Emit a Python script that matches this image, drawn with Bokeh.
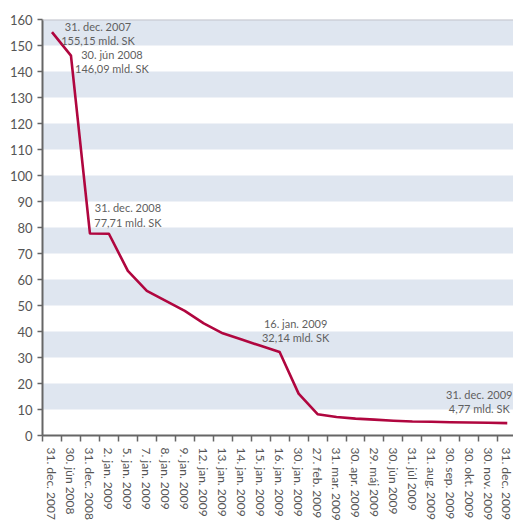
import numpy as np
from bokeh.plotting import figure
from bokeh.models import FixedTicker, Span, ColumnDataSource
from bokeh.embed import file_html
from bokeh.resources import INLINE
from bokeh.core.properties import value

dates = ["31. dec. 2007", "30. jún 2008", "31. dec. 2008", "2. jan. 2009", "5. jan. 2009",
         "7. jan. 2009", "8. jan. 2009", "9. jan. 2009", "12. jan. 2009", "13. jan. 2009",
         "14. jan. 2009", "15. jan. 2009", "16. jan. 2009", "30. jan. 2009", "27. feb. 2009",
         "31. mar. 2009", "30. apr. 2009", "29. máj 2009", "30. jún 2009", "31. júl 2009",
         "31. aug. 2009", "30. sep. 2009", "30. okt. 2009", "30. nov. 2009", "31. dec. 2009"]
amounts = [155.15, 146.09, 77.71, 77.6, 63.3, 55.6, 51.8, 47.9, 43.1, 39.3,
           36.9, 34.5, 32.14, 16.1, 8.2, 7.1, 6.5, 6.1, 5.7, 5.4,
           5.3, 5.1, 5.0, 4.9, 4.77]
annotated = [0, 1, 2, 12, 24]
y_ticks = list(range(0, 161, 10))

FONT = "Lato"
TXT = "#555555"

n = len(dates)
xs = np.arange(n) + 0.5

p = figure(width=513, height=523, output_backend="svg", toolbar_location=None,
           x_range=(0, 471 / 18.97), y_range=(0, 160),
           min_border_left=42, min_border_top=19, min_border_bottom=88, min_border_right=0)
p.outline_line_color = None
p.background_fill_color = "white"

# grid bands
p.xgrid.visible = False
p.ygrid.grid_line_color = None
p.ygrid.band_fill_color = "#DFE6F0"
p.ygrid.band_fill_alpha = 1.0
p.yaxis.ticker = FixedTicker(ticks=y_ticks)

top = Span(location=160, dimension="width", line_color="#C4C4CC", line_width=2)
p.add_layout(top)

p.line(xs, amounts, line_color="#B0063F", line_width=2.6, line_join="round")

# annotations
ann_dx = [46, 41, 38, 16, -28]
ann_dy = [-12, -8, -32, -35, -35]
src = ColumnDataSource(dict(
    x=[xs[i] for i in annotated],
    y=[amounts[i] for i in annotated],
    t=[dates[i] + "\n" + f"{amounts[i]:.2f}".replace(".", ",") + " mld. SK" for i in annotated],
    dx=ann_dx, dy=ann_dy))
p.text(x="x", y="y", text="t", x_offset="dx", y_offset="dy", source=src,
       text_align="center", text_baseline="top", text_font=value(FONT),
       text_font_size="11px", text_color="#5f5f5f", text_line_height=1.1)

# axes
for ax in (p.xaxis[0], p.yaxis[0]):
    ax.axis_line_color = "#666666"
    ax.axis_line_width = 2
    ax.major_label_text_font = FONT
    ax.major_label_text_color = TXT

p.yaxis.major_label_text_font_size = "13px"
p.xaxis.major_label_text_font_size = "12px"

p.yaxis.major_tick_in = 0
p.yaxis.major_tick_out = 5
p.yaxis.major_tick_line_color = "#666666"
p.yaxis.major_tick_line_width = 1.5
p.yaxis.minor_tick_line_color = None
p.yaxis.major_label_standoff = 5

p.xaxis.ticker = FixedTicker(ticks=list(xs), minor_ticks=list(np.arange(n + 1)))
p.xaxis.major_label_overrides = {float(x): d for x, d in zip(xs, dates)}
p.xaxis.major_label_orientation = "vertical"
p.xaxis.major_tick_in = 0
p.xaxis.major_tick_out = 0
p.xaxis.minor_tick_in = 0
p.xaxis.minor_tick_out = 6
p.xaxis.minor_tick_line_color = "#666666"
p.xaxis.minor_tick_line_width = 1.5
p.xaxis.major_label_standoff = 6

open("out.html", "w").write(file_html(p, INLINE))
